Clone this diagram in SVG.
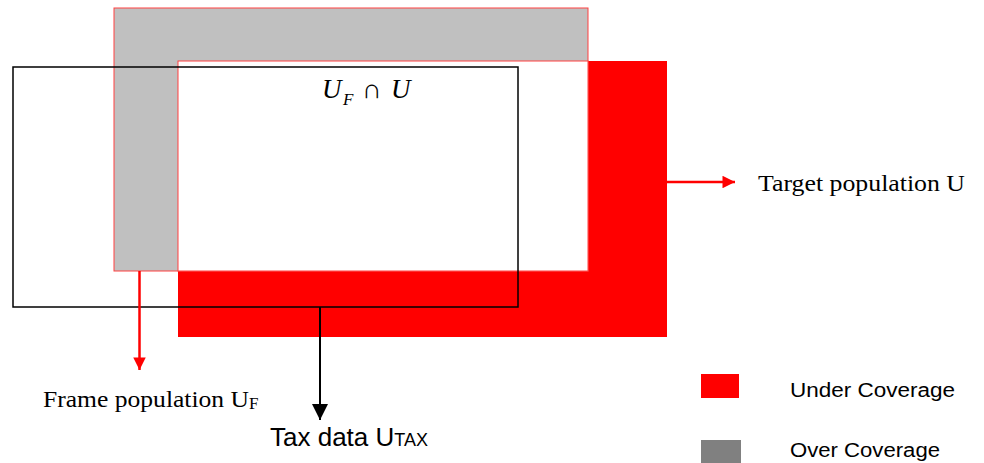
<svg xmlns="http://www.w3.org/2000/svg" width="984" height="463" viewBox="0 0 984 463">
<style>
.serif{font-family:"Liberation Serif","Times New Roman",serif;fill:#000}
.sans{font-family:"Liberation Sans",Arial,sans-serif;fill:#000}
</style>
<defs>
<marker id="redhead" viewBox="0 0 10 10" refX="10" refY="5" markerWidth="5.5" markerHeight="5" orient="auto" markerUnits="strokeWidth">
<path d="M0,0 L10,5 L0,10 z" fill="#ff0000"/>
</marker>
<marker id="blackhead" viewBox="0 0 10 10" refX="10" refY="5" markerWidth="8" markerHeight="8.5" orient="auto" markerUnits="strokeWidth">
<path d="M0,0 L10,5 L0,10 z" fill="#000"/>
</marker>
</defs>
<rect width="984" height="463" fill="#fff"/>
<g id="target-population">
<rect x="178" y="61" width="489" height="276" fill="#ff0000"/>
</g>
<g id="frame-population">
<rect x="114" y="8" width="474" height="263" fill="#c0c0c0" stroke="#ff4040" stroke-width="1"/>
</g>
<g id="intersection">
<rect x="178" y="61" width="410" height="210" fill="#fff" stroke="#ff4040" stroke-width="1"/>
<text class="serif" font-size="27" font-style="italic"><tspan x="322" y="98">U</tspan><tspan x="343" y="105" font-size="17">F</tspan><tspan x="362" y="98" font-style="normal">∩</tspan><tspan x="391" y="98">U</tspan></text>
</g>
<g id="tax-data">
<rect x="13" y="67" width="505" height="240" fill="none" stroke="#000" stroke-width="1.5"/>
</g>
<g id="connectors">
<line x1="139.5" y1="271" x2="139.5" y2="370" stroke="#ff0000" stroke-width="2.5" marker-end="url(#redhead)"/>
<line x1="667" y1="182" x2="735" y2="182" stroke="#ff0000" stroke-width="2.5" marker-end="url(#redhead)"/>
<line x1="320" y1="307" x2="320" y2="420" stroke="#000" stroke-width="2" marker-end="url(#blackhead)"/>
</g>
<g id="labels">
<text class="serif" x="758" y="191" font-size="23" textLength="207" lengthAdjust="spacingAndGlyphs">Target population U</text>
<text class="serif" x="43" y="407" font-size="23"><tspan textLength="206" lengthAdjust="spacingAndGlyphs">Frame population U</tspan><tspan font-size="17" dy="2">F</tspan></text>
<text class="sans" x="270" y="446" font-size="26">Tax data U<tspan font-size="18">TAX</tspan></text>
</g>
<g id="legend">
<rect x="701" y="374" width="38" height="24" fill="#ff0000"/>
<text class="sans" x="790" y="397" font-size="20" textLength="165" lengthAdjust="spacingAndGlyphs">Under Coverage</text>
<rect x="701" y="440" width="40" height="25" fill="#808080"/>
<text class="sans" x="790" y="457" font-size="20" textLength="150" lengthAdjust="spacingAndGlyphs">Over Coverage</text>
</g>
</svg>
